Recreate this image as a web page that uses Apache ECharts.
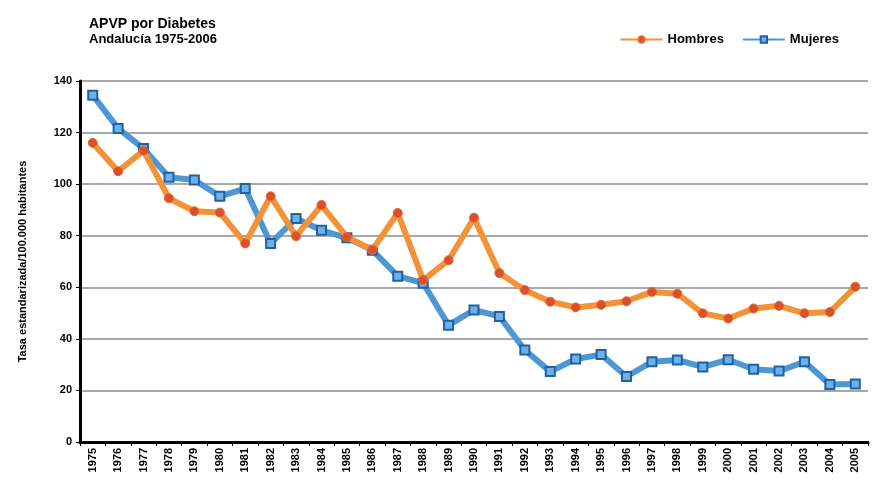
<!DOCTYPE html>
<html>
<head>
<meta charset="utf-8">
<script src="https://cdn.jsdelivr.net/npm/echarts@6/dist/echarts.min.js"></script>
<style>
  html, body { margin: 0; padding: 0; background: #ffffff; }
  #chart { width: 884px; height: 482px; }
</style>
</head>
<body>
<div id="chart"></div>
<script>
// Years on the category axis
const years = ['1975','1976','1977','1978','1979','1980','1981','1982','1983','1984',
  '1985','1986','1987','1988','1989','1990','1991','1992','1993','1994',
  '1995','1996','1997','1998','1999','2000','2001','2002','2003','2004','2005'];

// Standardised rate per 100,000 inhabitants
const hombres = [116, 105, 113, 94.5, 89.5, 89, 77, 95.3, 79.8, 91.9,
  79.5, 74.5, 88.8, 62.8, 70.5, 87, 65.5, 58.9, 54.4, 52.2,
  53.2, 54.6, 58.2, 57.5, 49.9, 47.9, 51.8, 52.8, 49.9, 50.4, 60.2];

const mujeres = [134.5, 121.6, 113.8, 102.7, 101.6, 95.3, 98.3, 77, 86.7, 82.1,
  79.2, 74.4, 64.3, 61.6, 45.3, 51.2, 48.7, 35.7, 27.3, 32.2,
  33.9, 25.4, 31.1, 31.8, 29.1, 31.9, 28.2, 27.5, 31.1, 22.3, 22.5];

const yTicks = { min: 0, max: 140, step: 20 };

const font = '"Liberation Sans Narrow", "Liberation Sans", Arial, sans-serif';

const chart = echarts.init(document.getElementById('chart'), null, { renderer: 'canvas' });

chart.setOption({
  backgroundColor: '#ffffff',
  animation: false,
  title: {
    text: 'APVP por Diabetes',
    subtext: 'Andalucía 1975-2006',
    left: 84,
    top: 12,
    itemGap: 2,
    textStyle: { fontFamily: font, fontWeight: 'bold', fontSize: 14, color: '#000' },
    subtextStyle: { fontFamily: font, fontWeight: 'bold', fontSize: 13, color: '#000' }
  },
  legend: {
    right: 40,
    top: 28,
    itemWidth: 42,
    itemHeight: 8,
    itemGap: 18,
    textStyle: { fontFamily: font, fontWeight: 'bold', fontSize: 13, color: '#000' },
    data: ['Hombres', 'Mujeres']
  },
  grid: { left: 80, right: 16, top: 81, bottom: 40 },
  xAxis: {
    type: 'category',
    data: years,
    boundaryGap: true,
    axisLine: { lineStyle: { color: '#000', width: 3 } },
    axisTick: { show: true, length: 4, lineStyle: { color: '#000', width: 1 } },
    axisLabel: {
      rotate: 90,
      interval: 0,
      fontFamily: font,
      fontWeight: 'bold',
      fontSize: 11,
      color: '#000',
      margin: 6
    }
  },
  yAxis: {
    type: 'value',
    min: yTicks.min,
    max: yTicks.max,
    interval: yTicks.step,
    name: 'Tasa estandarizada/100.000 habitantes',
    nameLocation: 'middle',
    nameGap: 52,
    nameTextStyle: { fontFamily: font, fontWeight: 'bold', fontSize: 11, color: '#000' },
    axisLine: { show: true, lineStyle: { color: '#000', width: 3 } },
    axisTick: { show: true, length: 4, lineStyle: { color: '#000' } },
    axisLabel: { fontFamily: font, fontWeight: 'bold', fontSize: 11, color: '#000', margin: 8 },
    splitLine: { show: true, lineStyle: { color: '#a8a8a8', width: 2 } }
  },
  series: [
    {
      name: 'Hombres',
      type: 'line',
      data: hombres,
      symbol: 'circle',
      symbolSize: 9,
      lineStyle: { color: '#F39237', width: 6 },
      itemStyle: { color: '#D9502B', borderColor: '#E8692E', borderWidth: 1 },
      z: 3
    },
    {
      name: 'Mujeres',
      type: 'line',
      data: mujeres,
      symbol: 'rect',
      symbolSize: 9,
      lineStyle: { color: '#4E96D4', width: 6 },
      itemStyle: { color: '#6FB0E6', borderColor: '#1E62A6', borderWidth: 2 },
      z: 2
    }
  ]
});
</script>
</body>
</html>
